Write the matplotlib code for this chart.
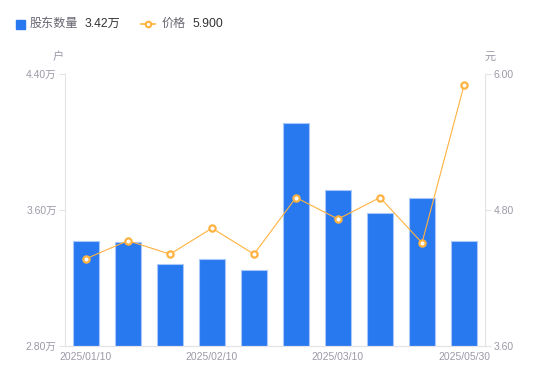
import matplotlib
matplotlib.use("Agg")
import matplotlib.pyplot as plt
from matplotlib.lines import Line2D
from matplotlib.patches import Rectangle

plt.rcParams["font.family"] = ["Liberation Sans", "Noto Sans CJK SC", "DejaVu Sans"]

# data
dates = ["2025/01/10", "2025/01/20", "2025/01/24", "2025/02/10", "2025/02/20",
         "2025/02/28", "2025/03/10", "2025/03/20", "2025/03/31", "2025/05/30"]
holders = [3.42, 3.41, 3.28, 3.31, 3.25, 4.11, 3.72, 3.58, 3.67, 3.42]  # 万户
price = [4.37, 4.53, 4.41, 4.64, 4.41, 4.91, 4.72, 4.91, 4.51, 5.90]    # 元
shown_ticks = [0, 3, 6, 9]

BLUE = "#2878f0"
ORANGE = "#ffb23f"
AXIS = "#e3e3e8"
TICK = "#9a9aa8"

W, H = 550, 381
fig = plt.figure(figsize=(W / 100, H / 100), dpi=100)
ax = fig.add_axes([65 / W, 1 - 346 / H, 420 / W, 272 / H])
ax2 = ax.twinx()

x = list(range(len(dates)))
ax.bar(x, holders, width=0.6, color=BLUE, edgecolor="#a9c8fa", linewidth=0.8, zorder=2)
ax2.plot(x, price, color=ORANGE, lw=0.8, marker="o", ms=4.5, mfc="white",
         mec=ORANGE, mew=1.6, zorder=3)

ax.set_xlim(-0.5, len(dates) - 0.5)
ax.set_ylim(2.8, 4.4)
ax.set_yticks([2.8, 3.6, 4.4])
ax.set_yticklabels([f"{v:.2f}万" for v in [2.8, 3.6, 4.4]])
ax2.set_ylim(3.6, 6.0)
ax2.set_yticks([3.6, 4.8, 6.0])
ax2.set_yticklabels([f"{v:.2f}" for v in [3.6, 4.8, 6.0]])
ax.set_xticks(shown_ticks)
ax.set_xticklabels([dates[i] for i in shown_ticks])

for a in (ax, ax2):
    for s in a.spines.values():
        s.set_visible(False)
    a.spines["bottom"].set_visible(True)
    a.spines["bottom"].set_color(AXIS)
ax.spines["left"].set_visible(True)
ax.spines["left"].set_color(AXIS)
ax2.spines["right"].set_visible(True)
ax2.spines["right"].set_color(AXIS)

ax.tick_params(axis="y", colors=AXIS, labelcolor=TICK, labelsize=7.5, length=4, width=0.8, pad=2)
ax2.tick_params(axis="y", colors=AXIS, labelcolor=TICK, labelsize=7.5, length=4, width=0.8, pad=2)
ax.tick_params(axis="x", length=0, labelcolor=TICK, labelsize=7.5, pad=4)

# unit labels
fig.text(58 / W, 1 - 57 / H, "户", color=TICK, fontsize=8, ha="center", va="center")
fig.text(490 / W, 1 - 57 / H, "元", color=TICK, fontsize=8, ha="center", va="center")

# legend
ly = 1 - 24 / H
fig.patches.append(Rectangle((16 / W, ly - 4.5 / H), 9 / W, 9 / H, color=BLUE,
                             transform=fig.transFigure, figure=fig))
fig.text(30 / W, ly, "股东数量", color="#666670", fontsize=8.7, va="center")
fig.text(85 / W, ly, f"{holders[-1]:.2f}万", color="#333333", fontsize=8.7, va="center")
fig.lines.append(Line2D([141 / W, 155 / W], [ly, ly], color=ORANGE, lw=1.2,
                        transform=fig.transFigure, figure=fig))
fig.lines.append(Line2D([148 / W], [ly], marker="o", ms=4, mfc="white", mec=ORANGE,
                        mew=1.5, transform=fig.transFigure, figure=fig))
fig.text(162 / W, ly, "价格", color="#666670", fontsize=8.7, va="center")
fig.text(192 / W, ly, f"{price[-1]:.3f}", color="#333333", fontsize=8.7, va="center")

fig.savefig("out.png", dpi=100, facecolor="white")
